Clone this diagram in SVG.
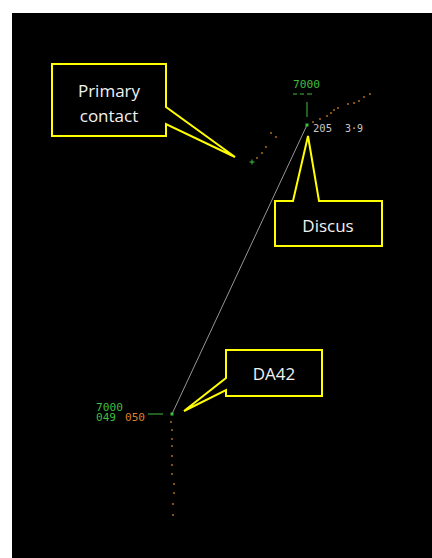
<svg xmlns="http://www.w3.org/2000/svg" width="432" height="558" viewBox="0 0 432 558">
<style>
.call{fill:#000;stroke:#ffff00;stroke-width:2;stroke-linejoin:miter}
.ct{font-family:"Open Sans","Liberation Sans",sans-serif;font-size:17px;fill:#f2f2f2;text-anchor:middle}
.rt{font-family:"DejaVu Sans Mono","Liberation Mono",monospace;font-size:10px}
.g{fill:#3fbf3f}
.o{fill:#d9822b}
.gr{fill:#c8c8c8}
.dot{fill:#a0661c}
</style>
<defs>
<circle id="d" r="1.1" class="dot"/>
</defs>
<rect x="12" y="13" width="420" height="545" fill="#000"/>
<g id="connectors">
<line x1="172" y1="414" x2="307" y2="125" stroke="#bdbdbd" stroke-width="0.8"/>
</g>
<g id="discus-target">
<text class="rt g" x="293" y="88" textLength="27" lengthAdjust="spacingAndGlyphs">7000</text>
<line x1="293" y1="94" x2="297" y2="94" stroke="#3fbf3f" stroke-width="1"/>
<line x1="300" y1="94" x2="304" y2="94" stroke="#3fbf3f" stroke-width="1"/>
<line x1="307" y1="94" x2="312" y2="94" stroke="#3fbf3f" stroke-width="1"/>
<line x1="307" y1="102" x2="307" y2="117" stroke="#3fbf3f" stroke-width="1"/>
<rect x="305.5" y="123.5" width="3" height="3" fill="#3fbf3f"/>
<text class="rt gr" x="313" y="132" textLength="19" lengthAdjust="spacingAndGlyphs">205</text>
<text class="rt gr" x="345" y="132" textLength="18" lengthAdjust="spacingAndGlyphs">3·9</text>
<use href="#d" x="313" y="122"/>
<use href="#d" x="320" y="119"/>
<use href="#d" x="327" y="116"/>
<use href="#d" x="331" y="113"/>
<use href="#d" x="334" y="110"/>
<use href="#d" x="338" y="108"/>
<use href="#d" x="348" y="104"/>
<use href="#d" x="354" y="103"/>
<use href="#d" x="359" y="101"/>
<use href="#d" x="364" y="97"/>
<use href="#d" x="370" y="94"/>
</g>
<g id="primary-target">
<path d="M249.5 162 H254.5 M252 159.5 V164.5" stroke="#3fbf3f" stroke-width="1"/>
<use href="#d" x="257" y="158"/>
<use href="#d" x="262" y="153"/>
<use href="#d" x="266" y="147"/>
<use href="#d" x="271" y="133"/>
<use href="#d" x="276" y="137"/>
</g>
<g id="da42-target">
<text class="rt g" x="96" y="410.5" textLength="27" lengthAdjust="spacingAndGlyphs">7000</text>
<text class="rt g" x="96" y="421" textLength="20" lengthAdjust="spacingAndGlyphs">049</text>
<text class="rt o" x="125" y="421" textLength="20" lengthAdjust="spacingAndGlyphs">050</text>
<line x1="148" y1="414" x2="163" y2="414" stroke="#3fbf3f" stroke-width="1"/>
<rect x="170.5" y="412.5" width="3" height="3" fill="#3fbf3f"/>
<use href="#d" x="171" y="422"/>
<use href="#d" x="172" y="430"/>
<use href="#d" x="172" y="439"/>
<use href="#d" x="172" y="446"/>
<use href="#d" x="172" y="456"/>
<use href="#d" x="172" y="465"/>
<use href="#d" x="172" y="474"/>
<use href="#d" x="174" y="484"/>
<use href="#d" x="174" y="493"/>
<use href="#d" x="173" y="504"/>
<use href="#d" x="173" y="515"/>
</g>
<g id="callout-primary">
<path class="call" d="M52 64 H166 V107 L235 157 L166 124 V136 H52 Z"/>
<text class="ct" x="109" y="97">Primary</text>
<text class="ct" x="109" y="122">contact</text>
</g>
<g id="callout-discus">
<path class="call" d="M275 201 H293 L308 136 L319 201 H382 V246 H275 Z"/>
<text class="ct" x="328" y="232">Discus</text>
</g>
<g id="callout-da42">
<path class="call" d="M226 350 H322 V396 H226 V390 L184 411 L226 378 Z"/>
<text class="ct" x="274" y="380">DA42</text>
</g>
</svg>
